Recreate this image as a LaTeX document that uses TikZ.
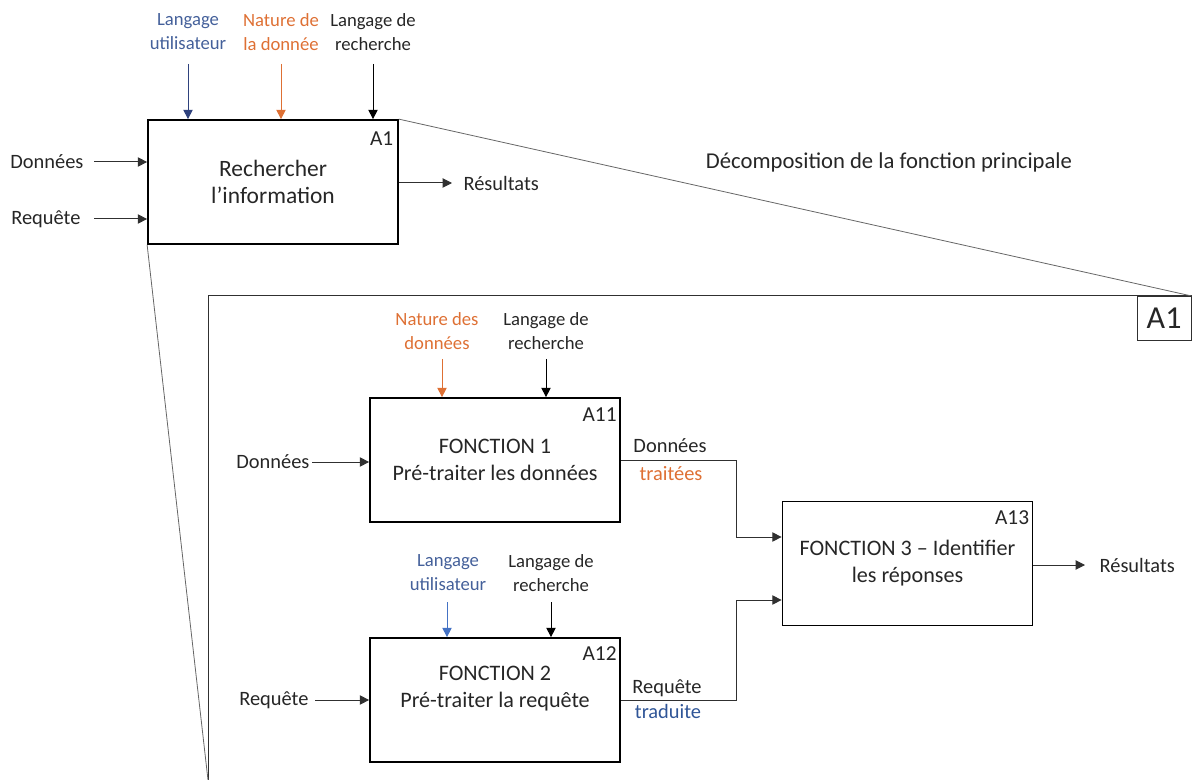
\documentclass[tikz,border=0pt]{standalone}
\usepackage{fontspec}
\setmainfont{Carlito}
\usetikzlibrary{arrows.meta}
\definecolor{txt}{HTML}{262626}
\definecolor{lineg}{HTML}{303030}
\definecolor{blueA}{RGB}{47,66,125}
\definecolor{blueT}{RGB}{68,96,154}
\definecolor{blueB}{RGB}{68,114,196}
\definecolor{blueC}{RGB}{47,85,151}
\definecolor{orgA}{RGB}{222,112,52}
\begin{document}
\begin{tikzpicture}[x=0.75pt,y=-0.75pt,
  fbox/.style={draw=black, line width=1.3pt, minimum width=187.5pt, minimum height=93pt,
    inner sep=0pt, align=center, text=txt, font=\fontsize{16.6}{20.3}\selectfont},
  bigbox/.style={fbox, font=\fontsize{17.6}{20.8}\selectfont},
  lbl/.style={font=\fontsize{15.3}{18}\selectfont, align=center, text=txt, inner sep=1pt},
  ctl/.style={lbl, font=\fontsize{14}{18}\selectfont},
  idx/.style={font=\fontsize{16}{18}\selectfont, anchor=north east, inner sep=0pt, text=txt},
  arr/.style={-{Triangle[length=7pt,width=7pt]}, line width=0.75pt, draw=lineg},
  zoomline/.style={draw=gray!80!black, line width=0.6pt},
  framel/.style={draw=lineg, line width=0.75pt}]
\useasboundingbox (0,0) rectangle (1192,780);

% ---------- top-level box A1
\node[bigbox] (a1) at (273,182) {Rechercher\\l’information};
\node[idx] (a1i) at ([xshift=-4pt,yshift=-9pt]a1.north east) {A1};

\node[ctl, text=blueT] (lu) at (188,32) {Langage\\utilisateur};
\node[ctl, text=orgA] (nd) at (281,32) {Nature de\\la donnée};
\node[ctl] (lr) at (373,32) {Langage de\\recherche};
\coordinate (lu0) at (188,64);
\coordinate (nd0) at (281,64);
\coordinate (lr0) at (373,64);
\draw[arr, draw=blueA] (lu0) -- (lu0 |- a1.north);
\draw[arr, draw=orgA] (nd0) -- (nd0 |- a1.north);
\draw[arr, draw=black] (lr0) -- (lr0 |- a1.north);

\node[lbl, anchor=east] (d1) at (85,162) {Données};
\node[lbl, anchor=east] (r1) at (82,219) {Requête};
\draw[arr, shorten <=7pt] (d1.east) -- (d1.east -| a1.west);
\draw[arr, shorten <=9pt] (r1.east) -- (r1.east -| a1.west);

\node[lbl, anchor=west] (res1) at (462,183) {Résultats};
\draw[arr] (a1.east |- res1.west) -- ([xshift=-7.5pt]res1.west);

\node[lbl, font=\fontsize{17}{20}\selectfont] (dec) at (889,162) {Décomposition de la fonction principale};

% ---------- decomposition frame
\coordinate (fr) at (208,296);
\coordinate (frR) at (1191.6,296);
\coordinate (frB) at (208,780);
\draw[framel] (frB) -- (fr) -- (frR);
\draw[zoomline] (a1.north east) -- (frR);
\draw[zoomline] (a1.south west) -- (frB);
\node[draw=lineg, line width=0.75pt, anchor=north east, minimum width=40.5pt, minimum height=33pt,
  inner sep=0pt, text=txt, font=\fontsize{24}{26}\selectfont] (a1c) at (frR) {A1};

% ---------- A11
\node[fbox] (a11) at (495,460) {FONCTION 1\\Pré-traiter les données};
\node[idx] (a11i) at ([xshift=-3pt,yshift=-7.5pt]a11.north east) {A11};
\node[ctl, text=orgA] (nd2) at (437,331) {Nature des\\données};
\node[ctl] (lr2) at (546,331) {Langage de\\recherche};
\coordinate (nd20) at (442,359);
\coordinate (lr20) at (546,359);
\draw[arr, draw=orgA] (nd20) -- (nd20 |- a11.north);
\draw[arr, draw=black] (lr20) -- (lr20 |- a11.north);
\node[lbl, anchor=east] (d2) at (311,462) {Données};
\draw[arr, shorten <=1pt] (d2.east) -- (d2.east -| a11.west);

% ---------- A12
\node[fbox] (a12) at (495,700) {FONCTION 2\\Pré-traiter la requête\\\mbox{}};
\node[idx] (a12i) at ([xshift=-3pt,yshift=-7pt]a12.north east) {A12};
\node[ctl, text=blueT] (lu3) at (448,573) {Langage\\utilisateur};
\node[ctl] (lr3) at (551,573) {Langage de\\recherche};
\coordinate (lu30) at (447,602);
\coordinate (lr30) at (551,602);
\draw[arr, draw=blueB] (lu30) -- (lu30 |- a12.north);
\draw[arr, draw=black] (lr30) -- (lr30 |- a12.north);
\node[lbl, anchor=east] (r2) at (310,700) {Requête};
\draw[arr, shorten <=4pt] (r2.east) -- (r2.east -| a12.west);

% ---------- A13
\node[fbox] (a13) at (907.5,563.5) {FONCTION 3 – Identifier\\les réponses};
\node[idx] (a13i) at ([xshift=-3pt,yshift=-7pt]a13.north east) {A13};
\coordinate (j1) at (736,537);
\coordinate (j2) at (736,600);
\draw[arr] (a11.east) -| (j1) -- (j1 -| a13.west);
\draw[arr] (a12.east) -| (j2) -- (j2 -| a13.west);
\node[lbl] (dt1) at (670,446) {Données};
\node[lbl, text=orgA] (dt2) at (671,474) {traitées};
\node[lbl] (rt1) at (667,688) {Requête};
\node[lbl, text=blueC] (rt2) at (668,711) {traduite};

\node[lbl, anchor=west] (res2) at (1098,565) {Résultats};
\draw[arr] (a13.east |- res2.west) -- ([xshift=-9.75pt]res2.west);
\end{tikzpicture}
\end{document}
